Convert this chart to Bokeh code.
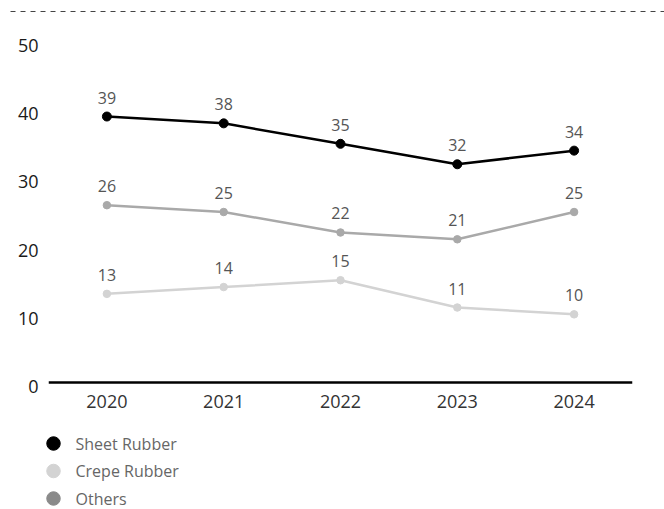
from bokeh.plotting import figure
from bokeh.layouts import column
from bokeh.models import Range1d, FixedTicker, LinearAxis, ColumnDataSource, Span
from bokeh.core.properties import value
from bokeh.embed import file_html
from bokeh.resources import INLINE

# ---- data ----
years = [2020, 2021, 2022, 2023, 2024]
sheet = [39, 38, 35, 32, 34]
crepe = [13, 14, 15, 11, 10]
others = [26, 25, 22, 21, 25]
y_ticks = [0, 10, 20, 30, 40, 50]
series_names = ["Sheet Rubber", "Crepe Rubber", "Others"]

# ---- styles ----
line_colors = ["#000000", "#d3d3d3", "#a9a9a9"]
legend_colors = ["#000000", "#d3d3d3", "#8a8a8a"]
marker_sizes = [9, 7.5, 7.5]
FONT = "Open Sans"
W = 664


def bare(fig):
    fig.grid.visible = False
    fig.outline_line_color = None
    fig.background_fill_color = "white"
    fig.border_fill_color = "white"


# ---- top dashed rule ----
top = figure(width=W, height=22, x_range=Range1d(0, W), y_range=Range1d(22, 0),
             x_axis_type=None, y_axis_type=None, output_backend="svg",
             toolbar_location=None, min_border=0, frame_align=False)
bare(top)
top.segment(x0=[10], y0=[11], x1=[W], y1=[11], line_color="#444444",
            line_width=1, line_dash="5 5")

# ---- main chart ----
# frame extends a little below zero so the value labels sit slightly low, as in the reference
shift = 0.58
p = figure(width=W, height=403, x_range=Range1d(2019.5, 2024.5),
           y_range=Range1d(y_ticks[0] - shift, y_ticks[-1]),
           y_axis_location=None, output_backend="svg", toolbar_location=None,
           min_border_left=48, min_border_right=32, min_border_top=19, min_border_bottom=39,
           frame_align=False)
bare(p)

p.extra_y_ranges = {"lab": Range1d(y_ticks[0], y_ticks[-1] + shift)}
yaxis = LinearAxis(y_range_name="lab", ticker=FixedTicker(ticks=y_ticks))
yaxis.axis_line_color = None
yaxis.major_tick_line_color = None
yaxis.minor_tick_line_color = None
yaxis.major_tick_out = 0
yaxis.major_tick_in = 0
yaxis.major_label_standoff = 10
yaxis.major_label_text_font = FONT
yaxis.major_label_text_font_size = "18px"
yaxis.major_label_text_color = "#1a1a1a"
p.add_layout(yaxis, "left")

xaxis = p.xaxis[0]
xaxis.ticker = FixedTicker(ticks=years)
xaxis.axis_line_color = None
xaxis.major_tick_line_color = None
xaxis.minor_tick_line_color = None
xaxis.major_tick_out = 0
xaxis.major_tick_in = 0
xaxis.major_label_standoff = 8
xaxis.major_label_text_font = FONT
xaxis.major_label_text_font_size = "18px"
xaxis.major_label_text_color = "#333333"

# zero baseline
p.add_layout(Span(location=0, dimension="width", line_color="#000000", line_width=2.5))

series = [sheet, crepe, others]
draw_order = [1, 2, 0]
for i in draw_order:
    vals = series[i]
    src = ColumnDataSource(dict(x=years, y=vals, t=[str(v) for v in vals]))
    p.line("x", "y", source=src, line_color=line_colors[i], line_width=2.5)
    p.scatter("x", "y", source=src, size=marker_sizes[i], fill_color=line_colors[i],
              line_color=line_colors[i])
    p.text("x", "y", text="t", source=src, y_offset=-19, text_align="center",
           text_baseline="middle", text_font=value(FONT), text_font_size="16px",
           text_color="#555555")

# ---- legend ----
leg = figure(width=W, height=84, x_range=Range1d(0, W), y_range=Range1d(84, 0),
             x_axis_type=None, y_axis_type=None, output_backend="svg",
             toolbar_location=None, min_border=0, frame_align=False)
bare(leg)
leg_y = [18 + 27.5 * i for i in range(len(series_names))]
leg.scatter(x=[53] * len(series_names), y=leg_y, size=13.5, fill_color=legend_colors,
            line_color=legend_colors)
leg.text(x=[75] * len(series_names), y=leg_y, text=series_names, text_align="left",
         text_baseline="middle", text_font=value(FONT), text_font_size="16px",
         text_color="#666666")

layout = column(top, p, leg, spacing=0)
open("out.html", "w").write(file_html(layout, INLINE))
